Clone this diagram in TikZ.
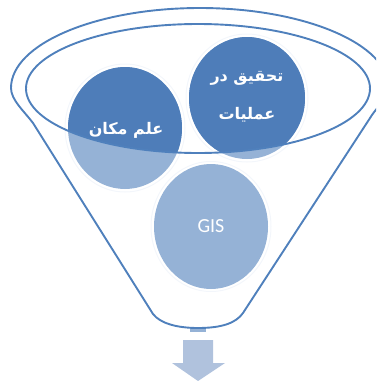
\documentclass[tikz,border=0pt]{standalone}
\usepackage{fontspec}
\setmainfont{Carlito}
\newfontfamily\arabicfont[Script=Arabic]{DejaVu Sans}
\TeXXeTstate=1
\definecolor{darkblue}{HTML}{4E7DB9}
\definecolor{lightblue}{HTML}{95B2D6}
\definecolor{arrowblue}{HTML}{B0C2DD}
\definecolor{halo}{HTML}{F3F6FB}
\definecolor{funnelline}{HTML}{4F80BC}
\tikzset{
  funnel/.style={draw=funnelline,line width=1.9pt,line join=round},
  arlabel/.style={text=white,font=\arabicfont\bfseries\fontsize{16}{38}\selectfont,align=center,inner sep=0pt},
}
\begin{document}
\begin{tikzpicture}[x=1pt,y=-1pt]
\path[use as bounding box] (0,0) rectangle (376,381);
\clip (0,0) rectangle (376,381);
% arrow and small neck
\fill[lightblue] (190,328) rectangle (206,332);
\fill[arrowblue] (183,340) -- (213,340) -- (213,363) -- (225,363) -- (198,381) -- (172,363) -- (183,363) -- cycle;
% halos
\draw[halo,line width=1pt] (247,98) ellipse [x radius=61,y radius=64];
\draw[halo,line width=1pt] (125,128) ellipse [x radius=60,y radius=64];
\draw[halo,line width=1pt] (211,226.5) ellipse [x radius=60,y radius=65];
% circles, light
\fill[lightblue] (247,98) ellipse [x radius=58,y radius=61];
\fill[lightblue] (125,128) ellipse [x radius=57,y radius=61];
\fill[lightblue] (211,226.5) ellipse [x radius=57,y radius=62.5];
% circle parts inside the rim, dark
\begin{scope}
\clip (198,88.5) ellipse [x radius=172,y radius=64.5];
\fill[darkblue] (247,98) ellipse [x radius=58,y radius=61];
\fill[darkblue] (125,128) ellipse [x radius=57,y radius=61];
\end{scope}
% funnel
\draw[funnel] (198,88.5) ellipse [x radius=172,y radius=64.5];
\draw[funnel] (33,123) .. controls (24,111) and (11,100) .. (11,88)
  .. controls (11,44) and (96,8) .. (200,8)
  .. controls (304,8) and (389,44) .. (389,88)
  .. controls (389,98) and (381,102) .. (372,115)
  -- (243,313) .. controls (236,323) and (222,328) .. (198,328)
  .. controls (176,328) and (160,323) .. (153,314)
  -- cycle;
% labels
\node[arlabel] (top) at (247,97) {\beginR تحقیق در\endR\\\beginR عملیات\endR};
\node[arlabel] (left) at (126,130) {\beginR علم مکان\endR};
\node[text=white,font=\fontsize{20}{24}\selectfont,inner sep=0pt] (gis) at (211,226) {GIS};
\end{tikzpicture}
\end{document}
